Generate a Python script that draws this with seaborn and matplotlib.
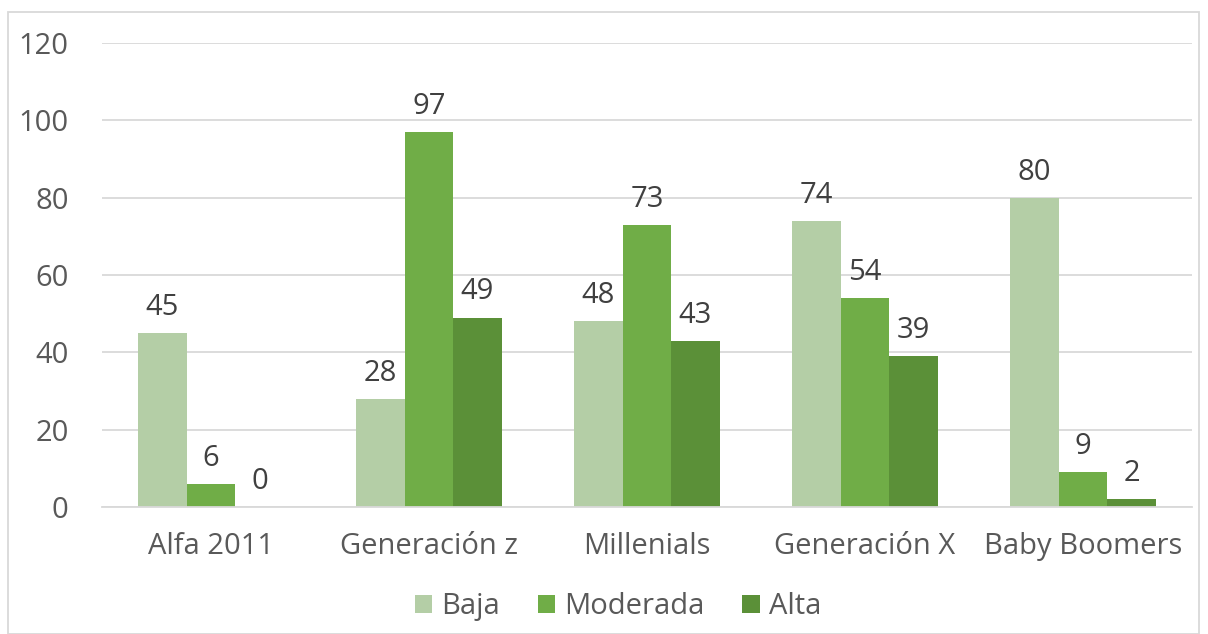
import matplotlib
matplotlib.use("Agg")
import matplotlib.pyplot as plt
import seaborn as sns
import pandas as pd
from matplotlib.patches import Rectangle

categories = ["Alfa 2011", "Generación z", "Millenials", "Generación X", "Baby Boomers"]
series_names = ["Baja", "Moderada", "Alta"]
baja = [45, 28, 48, 74, 80]
moderada = [6, 97, 73, 54, 9]
alta = [0, 49, 43, 39, 2]
y_ticks = [0, 20, 40, 60, 80, 100, 120]

colors = ["#B4CEA6", "#70AD47", "#5B9038"]
text_color = "#595959"

rows = []
for name, vals in zip(series_names, [baja, moderada, alta]):
    for cat, v in zip(categories, vals):
        rows.append({"Generación": cat, "Nivel": name, "Valor": v})
df = pd.DataFrame(rows)

sns.set_theme(style="white")
plt.rcParams["font.family"] = ["Open Sans", "DejaVu Sans"]

fig = plt.figure(figsize=(12.08, 6.34), dpi=100)
ax = fig.add_axes([102 / 1208, 1 - 507 / 634, 1090 / 1208, 464 / 634])

sns.barplot(data=df, x="Generación", y="Valor", hue="Nivel", order=categories,
            hue_order=series_names, palette=colors, width=0.667, saturation=1,
            ax=ax, legend=True, edgecolor="none", linewidth=0)

ax.set_ylim(0, 120)
ax.set_xlim(-0.5, len(categories) - 0.5)
ax.set_yticks(y_ticks)
ax.yaxis.grid(True, color="#D9D9D9", linewidth=1.3)
ax.set_axisbelow(True)
for s in ["top", "right", "left"]:
    ax.spines[s].set_visible(False)
ax.spines["bottom"].set_color("#D9D9D9")
ax.spines["bottom"].set_linewidth(1.3)
ax.tick_params(axis="both", length=0, labelsize=21, colors=text_color)
ax.tick_params(axis="y", pad=24)
ax.tick_params(axis="x", pad=18)
ax.set_xlabel("")
ax.set_ylabel("")

for cont in ax.containers:
    ax.bar_label(cont, fmt="%g", padding=8, fontsize=21, color="#404040")

handles, labels = ax.get_legend_handles_labels()
ax.legend(handles, labels, loc="center", bbox_to_anchor=((618 - 102) / 1090, -0.215), ncol=3,
          frameon=False, fontsize=21, labelcolor=text_color, handlelength=0.6,
          handleheight=0.6, handletextpad=0.3, columnspacing=1.3)

fig.patches.append(Rectangle((8 / 1208, 0), 1191 / 1208, 1 - 12 / 634,
                             transform=fig.transFigure, fill=False,
                             edgecolor="#D9D9D9", linewidth=1.3))

fig.savefig("out.png", dpi=100)
